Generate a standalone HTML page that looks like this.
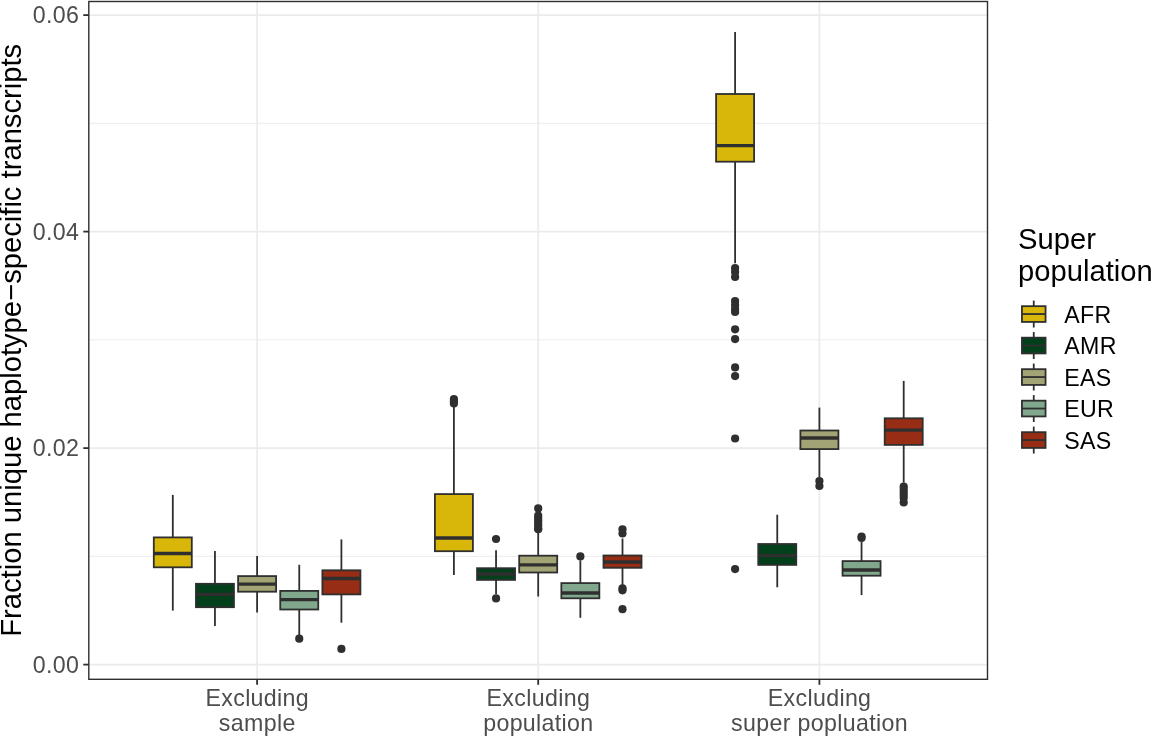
<!DOCTYPE html>
<html><head><meta charset="utf-8"><title>Boxplot</title>
<style>html,body{margin:0;padding:0;background:#fff;}svg{display:block;will-change:transform;}text{font-family:"Liberation Sans",sans-serif;}</style></head><body>
<svg width="1151" height="736" viewBox="0 0 1151 736">
<rect x="0" y="0" width="1151" height="736" fill="#fff"/>
<line x1="88.8" x2="987.5" y1="556.35" y2="556.35" stroke="#EBEBEB" stroke-width="0.9"/>
<line x1="88.8" x2="987.5" y1="339.85" y2="339.85" stroke="#EBEBEB" stroke-width="0.9"/>
<line x1="88.8" x2="987.5" y1="123.35" y2="123.35" stroke="#EBEBEB" stroke-width="0.9"/>
<line x1="88.8" x2="987.5" y1="664.60" y2="664.60" stroke="#EBEBEB" stroke-width="1.7"/>
<line x1="88.8" x2="987.5" y1="448.10" y2="448.10" stroke="#EBEBEB" stroke-width="1.7"/>
<line x1="88.8" x2="987.5" y1="231.60" y2="231.60" stroke="#EBEBEB" stroke-width="1.7"/>
<line x1="88.8" x2="987.5" y1="15.10" y2="15.10" stroke="#EBEBEB" stroke-width="1.7"/>
<line x1="257.1" x2="257.1" y1="1.5" y2="679.3" stroke="#EBEBEB" stroke-width="1.7"/>
<line x1="538.2" x2="538.2" y1="1.5" y2="679.3" stroke="#EBEBEB" stroke-width="1.7"/>
<line x1="819.4" x2="819.4" y1="1.5" y2="679.3" stroke="#EBEBEB" stroke-width="1.7"/>
<line x1="172.80" x2="172.80" y1="494.9" y2="537.4" stroke="#2f2f2f" stroke-width="1.8"/>
<line x1="172.80" x2="172.80" y1="567.3" y2="610.6" stroke="#2f2f2f" stroke-width="1.8"/>
<rect x="153.80" y="537.4" width="38.00" height="29.90" fill="#D8B70A" stroke="#2f2f2f" stroke-width="1.8"/>
<line x1="153.80" x2="191.80" y1="553.5" y2="553.5" stroke="#2f2f2f" stroke-width="3.3"/>
<line x1="214.95" x2="214.95" y1="551.0" y2="583.8" stroke="#2f2f2f" stroke-width="1.8"/>
<line x1="214.95" x2="214.95" y1="607.2" y2="626.0" stroke="#2f2f2f" stroke-width="1.8"/>
<rect x="195.95" y="583.8" width="38.00" height="23.40" fill="#02401B" stroke="#2f2f2f" stroke-width="1.8"/>
<line x1="195.95" x2="233.95" y1="594.3" y2="594.3" stroke="#2f2f2f" stroke-width="3.3"/>
<line x1="257.10" x2="257.10" y1="555.9" y2="576.1" stroke="#2f2f2f" stroke-width="1.8"/>
<line x1="257.10" x2="257.10" y1="591.7" y2="612.4" stroke="#2f2f2f" stroke-width="1.8"/>
<rect x="238.10" y="576.1" width="38.00" height="15.60" fill="#A2A475" stroke="#2f2f2f" stroke-width="1.8"/>
<line x1="238.10" x2="276.10" y1="584.2" y2="584.2" stroke="#2f2f2f" stroke-width="3.3"/>
<circle cx="299.25" cy="638.7" r="4.1" fill="#2f2f2f"/>
<line x1="299.25" x2="299.25" y1="564.8" y2="590.9" stroke="#2f2f2f" stroke-width="1.8"/>
<line x1="299.25" x2="299.25" y1="609.5" y2="635.5" stroke="#2f2f2f" stroke-width="1.8"/>
<rect x="280.25" y="590.9" width="38.00" height="18.60" fill="#81A88D" stroke="#2f2f2f" stroke-width="1.8"/>
<line x1="280.25" x2="318.25" y1="599.6" y2="599.6" stroke="#2f2f2f" stroke-width="3.3"/>
<circle cx="341.40" cy="648.9" r="4.1" fill="#2f2f2f"/>
<line x1="341.40" x2="341.40" y1="539.4" y2="570.3" stroke="#2f2f2f" stroke-width="1.8"/>
<line x1="341.40" x2="341.40" y1="594.4" y2="622.7" stroke="#2f2f2f" stroke-width="1.8"/>
<rect x="322.40" y="570.3" width="38.00" height="24.10" fill="#972D15" stroke="#2f2f2f" stroke-width="1.8"/>
<line x1="322.40" x2="360.40" y1="578.5" y2="578.5" stroke="#2f2f2f" stroke-width="3.3"/>
<circle cx="453.90" cy="399.0" r="4.1" fill="#2f2f2f"/>
<circle cx="453.90" cy="401.5" r="4.1" fill="#2f2f2f"/>
<circle cx="453.90" cy="403.5" r="4.1" fill="#2f2f2f"/>
<line x1="453.90" x2="453.90" y1="407.0" y2="494.1" stroke="#2f2f2f" stroke-width="1.8"/>
<line x1="453.90" x2="453.90" y1="551.2" y2="575.1" stroke="#2f2f2f" stroke-width="1.8"/>
<rect x="434.90" y="494.1" width="38.00" height="57.10" fill="#D8B70A" stroke="#2f2f2f" stroke-width="1.8"/>
<line x1="434.90" x2="472.90" y1="538.0" y2="538.0" stroke="#2f2f2f" stroke-width="3.3"/>
<circle cx="496.05" cy="539.0" r="4.1" fill="#2f2f2f"/>
<circle cx="496.05" cy="598.4" r="4.1" fill="#2f2f2f"/>
<line x1="496.05" x2="496.05" y1="550.2" y2="568.2" stroke="#2f2f2f" stroke-width="1.8"/>
<line x1="496.05" x2="496.05" y1="579.9" y2="594.0" stroke="#2f2f2f" stroke-width="1.8"/>
<rect x="477.05" y="568.2" width="38.00" height="11.70" fill="#02401B" stroke="#2f2f2f" stroke-width="1.8"/>
<line x1="477.05" x2="515.05" y1="574.0" y2="574.0" stroke="#2f2f2f" stroke-width="3.3"/>
<circle cx="538.20" cy="508.4" r="4.1" fill="#2f2f2f"/>
<circle cx="538.20" cy="515.5" r="4.1" fill="#2f2f2f"/>
<circle cx="538.20" cy="518" r="4.1" fill="#2f2f2f"/>
<circle cx="538.20" cy="520.5" r="4.1" fill="#2f2f2f"/>
<circle cx="538.20" cy="523" r="4.1" fill="#2f2f2f"/>
<circle cx="538.20" cy="525.5" r="4.1" fill="#2f2f2f"/>
<circle cx="538.20" cy="528.5" r="4.1" fill="#2f2f2f"/>
<circle cx="538.20" cy="529.2" r="4.1" fill="#2f2f2f"/>
<line x1="538.20" x2="538.20" y1="532.8" y2="555.7" stroke="#2f2f2f" stroke-width="1.8"/>
<line x1="538.20" x2="538.20" y1="572.5" y2="596.5" stroke="#2f2f2f" stroke-width="1.8"/>
<rect x="519.20" y="555.7" width="38.00" height="16.80" fill="#A2A475" stroke="#2f2f2f" stroke-width="1.8"/>
<line x1="519.20" x2="557.20" y1="564.9" y2="564.9" stroke="#2f2f2f" stroke-width="3.3"/>
<circle cx="580.35" cy="556.4" r="4.1" fill="#2f2f2f"/>
<line x1="580.35" x2="580.35" y1="560.4" y2="583.1" stroke="#2f2f2f" stroke-width="1.8"/>
<line x1="580.35" x2="580.35" y1="598.3" y2="617.8" stroke="#2f2f2f" stroke-width="1.8"/>
<rect x="561.35" y="583.1" width="38.00" height="15.20" fill="#81A88D" stroke="#2f2f2f" stroke-width="1.8"/>
<line x1="561.35" x2="599.35" y1="593.0" y2="593.0" stroke="#2f2f2f" stroke-width="3.3"/>
<circle cx="622.50" cy="529.3" r="4.1" fill="#2f2f2f"/>
<circle cx="622.50" cy="533.5" r="4.1" fill="#2f2f2f"/>
<circle cx="622.50" cy="588.3" r="4.1" fill="#2f2f2f"/>
<circle cx="622.50" cy="590.3" r="4.1" fill="#2f2f2f"/>
<circle cx="622.50" cy="609.2" r="4.1" fill="#2f2f2f"/>
<line x1="622.50" x2="622.50" y1="538.5" y2="555.5" stroke="#2f2f2f" stroke-width="1.8"/>
<line x1="622.50" x2="622.50" y1="567.8" y2="585.0" stroke="#2f2f2f" stroke-width="1.8"/>
<rect x="603.50" y="555.5" width="38.00" height="12.30" fill="#972D15" stroke="#2f2f2f" stroke-width="1.8"/>
<line x1="603.50" x2="641.50" y1="562.0" y2="562.0" stroke="#2f2f2f" stroke-width="3.3"/>
<circle cx="735.10" cy="268" r="4.1" fill="#2f2f2f"/>
<circle cx="735.10" cy="272" r="4.1" fill="#2f2f2f"/>
<circle cx="735.10" cy="277" r="4.1" fill="#2f2f2f"/>
<circle cx="735.10" cy="301" r="4.1" fill="#2f2f2f"/>
<circle cx="735.10" cy="305" r="4.1" fill="#2f2f2f"/>
<circle cx="735.10" cy="309" r="4.1" fill="#2f2f2f"/>
<circle cx="735.10" cy="312" r="4.1" fill="#2f2f2f"/>
<circle cx="735.10" cy="329.3" r="4.1" fill="#2f2f2f"/>
<circle cx="735.10" cy="339.1" r="4.1" fill="#2f2f2f"/>
<circle cx="735.10" cy="367.4" r="4.1" fill="#2f2f2f"/>
<circle cx="735.10" cy="376.1" r="4.1" fill="#2f2f2f"/>
<circle cx="735.10" cy="438.5" r="4.1" fill="#2f2f2f"/>
<circle cx="735.10" cy="569.1" r="4.1" fill="#2f2f2f"/>
<line x1="735.10" x2="735.10" y1="32.0" y2="94.0" stroke="#2f2f2f" stroke-width="1.8"/>
<line x1="735.10" x2="735.10" y1="161.7" y2="263.3" stroke="#2f2f2f" stroke-width="1.8"/>
<rect x="716.10" y="94.0" width="38.00" height="67.70" fill="#D8B70A" stroke="#2f2f2f" stroke-width="1.8"/>
<line x1="716.10" x2="754.10" y1="145.7" y2="145.7" stroke="#2f2f2f" stroke-width="3.3"/>
<line x1="777.25" x2="777.25" y1="514.7" y2="544.0" stroke="#2f2f2f" stroke-width="1.8"/>
<line x1="777.25" x2="777.25" y1="564.9" y2="587.3" stroke="#2f2f2f" stroke-width="1.8"/>
<rect x="758.25" y="544.0" width="38.00" height="20.90" fill="#02401B" stroke="#2f2f2f" stroke-width="1.8"/>
<line x1="758.25" x2="796.25" y1="555.7" y2="555.7" stroke="#2f2f2f" stroke-width="3.3"/>
<circle cx="819.40" cy="481" r="4.1" fill="#2f2f2f"/>
<circle cx="819.40" cy="486" r="4.1" fill="#2f2f2f"/>
<line x1="819.40" x2="819.40" y1="407.6" y2="430.5" stroke="#2f2f2f" stroke-width="1.8"/>
<line x1="819.40" x2="819.40" y1="449.1" y2="477.0" stroke="#2f2f2f" stroke-width="1.8"/>
<rect x="800.40" y="430.5" width="38.00" height="18.60" fill="#A2A475" stroke="#2f2f2f" stroke-width="1.8"/>
<line x1="800.40" x2="838.40" y1="438.0" y2="438.0" stroke="#2f2f2f" stroke-width="3.3"/>
<circle cx="861.55" cy="536.5" r="4.1" fill="#2f2f2f"/>
<circle cx="861.55" cy="538" r="4.1" fill="#2f2f2f"/>
<line x1="861.55" x2="861.55" y1="542.0" y2="561.1" stroke="#2f2f2f" stroke-width="1.8"/>
<line x1="861.55" x2="861.55" y1="575.7" y2="595.1" stroke="#2f2f2f" stroke-width="1.8"/>
<rect x="842.55" y="561.1" width="38.00" height="14.60" fill="#81A88D" stroke="#2f2f2f" stroke-width="1.8"/>
<line x1="842.55" x2="880.55" y1="570.0" y2="570.0" stroke="#2f2f2f" stroke-width="3.3"/>
<circle cx="903.70" cy="486.5" r="4.1" fill="#2f2f2f"/>
<circle cx="903.70" cy="489" r="4.1" fill="#2f2f2f"/>
<circle cx="903.70" cy="492" r="4.1" fill="#2f2f2f"/>
<circle cx="903.70" cy="495" r="4.1" fill="#2f2f2f"/>
<circle cx="903.70" cy="498" r="4.1" fill="#2f2f2f"/>
<circle cx="903.70" cy="502.5" r="4.1" fill="#2f2f2f"/>
<line x1="903.70" x2="903.70" y1="380.9" y2="418.3" stroke="#2f2f2f" stroke-width="1.8"/>
<line x1="903.70" x2="903.70" y1="444.9" y2="482.7" stroke="#2f2f2f" stroke-width="1.8"/>
<rect x="884.70" y="418.3" width="38.00" height="26.60" fill="#972D15" stroke="#2f2f2f" stroke-width="1.8"/>
<line x1="884.70" x2="922.70" y1="430.1" y2="430.1" stroke="#2f2f2f" stroke-width="3.3"/>
<rect x="88.8" y="1.5" width="898.70" height="677.80" fill="none" stroke="#2f2f2f" stroke-width="1.4"/>
<line x1="83.30" x2="88.8" y1="664.60" y2="664.60" stroke="#2f2f2f" stroke-width="1.8"/>
<line x1="83.30" x2="88.8" y1="448.10" y2="448.10" stroke="#2f2f2f" stroke-width="1.8"/>
<line x1="83.30" x2="88.8" y1="231.60" y2="231.60" stroke="#2f2f2f" stroke-width="1.8"/>
<line x1="83.30" x2="88.8" y1="15.10" y2="15.10" stroke="#2f2f2f" stroke-width="1.8"/>
<line x1="257.1" x2="257.1" y1="679.3" y2="684.80" stroke="#2f2f2f" stroke-width="1.8"/>
<line x1="538.2" x2="538.2" y1="679.3" y2="684.80" stroke="#2f2f2f" stroke-width="1.8"/>
<line x1="819.4" x2="819.4" y1="679.3" y2="684.80" stroke="#2f2f2f" stroke-width="1.8"/>
<text x="79.34" y="672.80" font-size="23.2" letter-spacing="0.34" fill="#4D4D4D" text-anchor="end">0.00</text>
<text x="79.34" y="456.30" font-size="23.2" letter-spacing="0.34" fill="#4D4D4D" text-anchor="end">0.02</text>
<text x="79.34" y="239.80" font-size="23.2" letter-spacing="0.34" fill="#4D4D4D" text-anchor="end">0.04</text>
<text x="79.34" y="23.30" font-size="23.2" letter-spacing="0.34" fill="#4D4D4D" text-anchor="end">0.06</text>
<text x="257.27" y="705.5" font-size="23.2" letter-spacing="0.34" fill="#4D4D4D" text-anchor="middle">Excluding</text>
<text x="257.27" y="730.5" font-size="23.2" letter-spacing="0.34" fill="#4D4D4D" text-anchor="middle">sample</text>
<text x="538.37" y="705.5" font-size="23.2" letter-spacing="0.34" fill="#4D4D4D" text-anchor="middle">Excluding</text>
<text x="538.37" y="730.5" font-size="23.2" letter-spacing="0.34" fill="#4D4D4D" text-anchor="middle">population</text>
<text x="819.57" y="705.5" font-size="23.2" letter-spacing="0.34" fill="#4D4D4D" text-anchor="middle">Excluding</text>
<text x="819.57" y="730.5" font-size="23.2" letter-spacing="0.34" fill="#4D4D4D" text-anchor="middle">super popluation</text>
<text transform="translate(20.8,340.3) rotate(-90)" font-size="29.2" fill="#000" text-anchor="middle">Fraction unique haplotype−specific transcripts</text>
<text x="1018" y="249.2" font-size="29.2" fill="#000">Super</text>
<text x="1018" y="280.6" font-size="29.2" fill="#000">population</text>
<line x1="1033.75" x2="1033.75" y1="300.57" y2="306.18" stroke="#2f2f2f" stroke-width="1.8"/>
<line x1="1033.75" x2="1033.75" y1="321.93" y2="327.53" stroke="#2f2f2f" stroke-width="1.8"/>
<rect x="1021.94" y="306.18" width="23.62" height="15.75" fill="#D8B70A" stroke="#2f2f2f" stroke-width="1.8"/>
<line x1="1021.94" x2="1045.56" y1="314.05" y2="314.05" stroke="#2f2f2f" stroke-width="1.8"/>
<text x="1064.2" y="322.95" font-size="23.2" letter-spacing="0.34" fill="#000">AFR</text>
<line x1="1033.75" x2="1033.75" y1="332.07" y2="337.68" stroke="#2f2f2f" stroke-width="1.8"/>
<line x1="1033.75" x2="1033.75" y1="353.43" y2="359.03" stroke="#2f2f2f" stroke-width="1.8"/>
<rect x="1021.94" y="337.68" width="23.62" height="15.75" fill="#02401B" stroke="#2f2f2f" stroke-width="1.8"/>
<line x1="1021.94" x2="1045.56" y1="345.55" y2="345.55" stroke="#2f2f2f" stroke-width="1.8"/>
<text x="1064.2" y="354.45" font-size="23.2" letter-spacing="0.34" fill="#000">AMR</text>
<line x1="1033.75" x2="1033.75" y1="363.57" y2="369.18" stroke="#2f2f2f" stroke-width="1.8"/>
<line x1="1033.75" x2="1033.75" y1="384.93" y2="390.53" stroke="#2f2f2f" stroke-width="1.8"/>
<rect x="1021.94" y="369.18" width="23.62" height="15.75" fill="#A2A475" stroke="#2f2f2f" stroke-width="1.8"/>
<line x1="1021.94" x2="1045.56" y1="377.05" y2="377.05" stroke="#2f2f2f" stroke-width="1.8"/>
<text x="1064.2" y="385.95" font-size="23.2" letter-spacing="0.34" fill="#000">EAS</text>
<line x1="1033.75" x2="1033.75" y1="395.07" y2="400.68" stroke="#2f2f2f" stroke-width="1.8"/>
<line x1="1033.75" x2="1033.75" y1="416.43" y2="422.03" stroke="#2f2f2f" stroke-width="1.8"/>
<rect x="1021.94" y="400.68" width="23.62" height="15.75" fill="#81A88D" stroke="#2f2f2f" stroke-width="1.8"/>
<line x1="1021.94" x2="1045.56" y1="408.55" y2="408.55" stroke="#2f2f2f" stroke-width="1.8"/>
<text x="1064.2" y="417.45" font-size="23.2" letter-spacing="0.34" fill="#000">EUR</text>
<line x1="1033.75" x2="1033.75" y1="426.57" y2="432.18" stroke="#2f2f2f" stroke-width="1.8"/>
<line x1="1033.75" x2="1033.75" y1="447.93" y2="453.53" stroke="#2f2f2f" stroke-width="1.8"/>
<rect x="1021.94" y="432.18" width="23.62" height="15.75" fill="#972D15" stroke="#2f2f2f" stroke-width="1.8"/>
<line x1="1021.94" x2="1045.56" y1="440.05" y2="440.05" stroke="#2f2f2f" stroke-width="1.8"/>
<text x="1064.2" y="448.95" font-size="23.2" letter-spacing="0.34" fill="#000">SAS</text>
</svg>
</body></html>
